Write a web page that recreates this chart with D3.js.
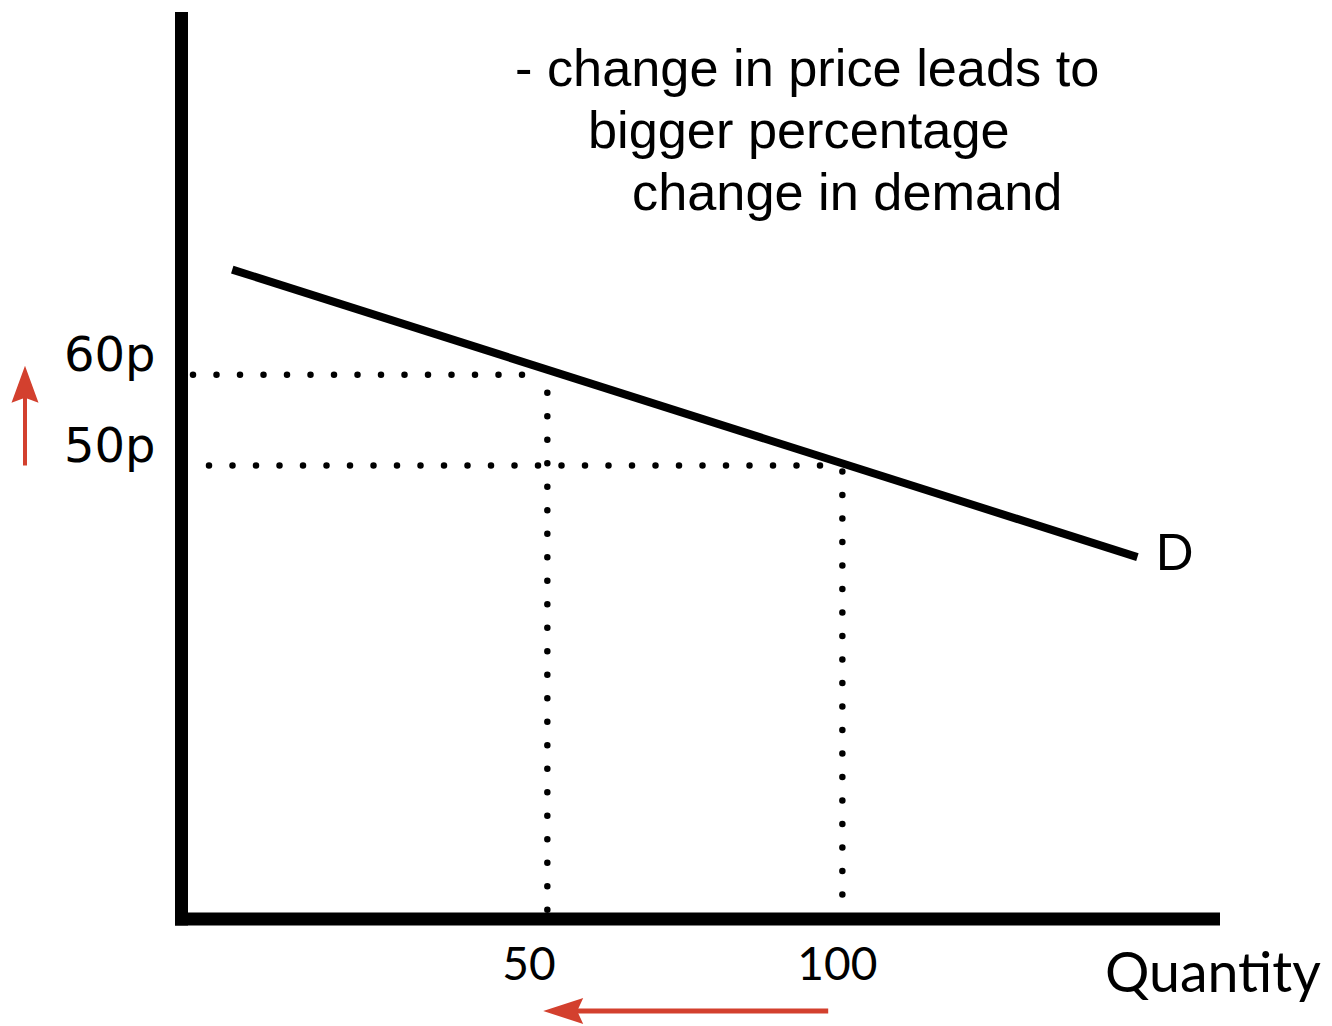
<!DOCTYPE html>
<html>
<head>
<meta charset="utf-8">
<script src="https://cdn.jsdelivr.net/npm/d3@7"></script>
<style>
  html, body { margin: 0; padding: 0; background: #fff; }
  svg { display: block; }
</style>
</head>
<body>
<svg id="chart" width="1332" height="1026"></svg>
<script>
// ---------- data ----------
const demandQuantity = [-3.4, 150];      // quantity at each end of the demand line
const demandPrice    = [71.6, 39.9];     // price at each end of the demand line
const pricePoints    = [60, 50];         // prices marked on the y axis
const priceLabels    = ["60p", "50p"];
const quantityPoints = [50, 100];        // quantities matching each price
const quantityLabels = ["50", "100"];
const curveLabel     = "D";
const xAxisTitle     = "Quantity";
const noteLines      = ["- change in price leads to", "bigger percentage", "change in demand"];
const priceArrow     = [50, 61];         // price rise arrow (from, to)
const quantityArrow  = [97.6, 49.3];     // quantity fall arrow (from, to)

// ---------- scales ----------
const svg = d3.select("#chart");
const x = d3.scaleLinear().domain([-12, 164]).range([181.5, 1220]);
const y = d3.scaleLinear().domain([0, 100]).range([919, 12]);

const black = "#000";
const red = "#d3402e";

// ---------- axes ----------
svg.append("line")
  .attr("x1", x.range()[0]).attr("x2", x.range()[0])
  .attr("y1", y.range()[1]).attr("y2", y.range()[0] + 6.5)
  .attr("stroke", black).attr("stroke-width", 13);
svg.append("line")
  .attr("x1", x.range()[0] - 6.5).attr("x2", x.range()[1])
  .attr("y1", y.range()[0]).attr("y2", y.range()[0])
  .attr("stroke", black).attr("stroke-width", 13);

// ---------- dotted guides ----------
const dotStyle = sel => sel.attr("stroke", black).attr("stroke-width", 6.5)
  .attr("stroke-linecap", "round").attr("stroke-dasharray", "0 23.5").attr("fill", "none");

const hStart = [x.range()[0] + 11.5, x.range()[0] + 27.5];
const hEnd   = [x(quantityPoints[0]) - 8, x(quantityPoints[1]) - 8];
const vStart = [y(pricePoints[0]) + 18, y(pricePoints[1]) + 6];
const vEnd   = [y(0) - 7, y(0) - 22];

pricePoints.forEach((p, i) => {
  svg.append("line").call(dotStyle)
    .attr("x1", hStart[i]).attr("x2", hEnd[i])
    .attr("y1", y(p)).attr("y2", y(p));
  svg.append("line").call(dotStyle)
    .attr("x1", x(quantityPoints[i])).attr("x2", x(quantityPoints[i]))
    .attr("y1", vStart[i]).attr("y2", vEnd[i]);
});

// ---------- demand curve ----------
const demand = demandQuantity.map((q, i) => ({ q, p: demandPrice[i] }));
svg.append("path")
  .datum(demand)
  .attr("d", d3.line().x(d => x(d.q)).y(d => y(d.p)))
  .attr("stroke", black).attr("stroke-width", 8).attr("fill", "none");

svg.append("text")
  .attr("x", x(demandQuantity[1]) + 18)
  .attr("y", y(demandPrice[1]) + 13)
  .attr("font-family", "Lato, sans-serif").attr("font-size", 50)
  .attr("fill", black).text(curveLabel);

// ---------- tick labels ----------
pricePoints.forEach((p, i) => {
  svg.append("text")
    .attr("x", x.range()[0] - 26)
    .attr("y", y(p) - 4)
    .attr("text-anchor", "end")
    .attr("font-family", "'DejaVu Sans', sans-serif").attr("font-size", 48)
    .attr("fill", black).text(priceLabels[i]);
});
quantityPoints.forEach((q, i) => {
  svg.append("text")
    .attr("x", x(q) - 45)
    .attr("y", y(0) + 61)
    .attr("font-family", "Lato, sans-serif").attr("font-size", 46)
    .attr("fill", black).text(quantityLabels[i]);
});
svg.append("text")
  .attr("x", 1105).attr("y", 992)
  .attr("font-family", "Lato, sans-serif").attr("font-size", 55.5)
  .attr("fill", black).text(xAxisTitle);

// ---------- note ----------
const noteX = [515, 588, 632];
noteLines.forEach((t, i) => {
  svg.append("text")
    .attr("x", noteX[i]).attr("y", 86 + i * 62)
    .attr("font-family", "'Liberation Sans', Arial, sans-serif").attr("font-size", 52.3)
    .attr("fill", black).text(t);
});

// ---------- red arrows ----------
// vertical (price up)
const ax = 25;
const py0 = y(priceArrow[0]), py1 = y(priceArrow[1]);
svg.append("line").attr("x1", ax).attr("x2", ax).attr("y1", py0).attr("y2", py1 + 30)
  .attr("stroke", red).attr("stroke-width", 4);
svg.append("path")
  .attr("d", `M${ax},${py1} L${ax + 13.5},${py1 + 37} L${ax},${py1 + 32} L${ax - 13.5},${py1 + 37} Z`)
  .attr("fill", red);

// horizontal (quantity down)
const ay = 1011;
const qx0 = x(quantityArrow[0]), qx1 = x(quantityArrow[1]);
svg.append("line").attr("x1", qx0).attr("x2", qx1 + 30).attr("y1", ay).attr("y2", ay)
  .attr("stroke", red).attr("stroke-width", 5);
svg.append("path")
  .attr("d", `M${qx1},${ay} L${qx1 + 40},${ay - 13} L${qx1 + 34},${ay} L${qx1 + 40},${ay + 13} Z`)
  .attr("fill", red);
</script>
</body>
</html>
